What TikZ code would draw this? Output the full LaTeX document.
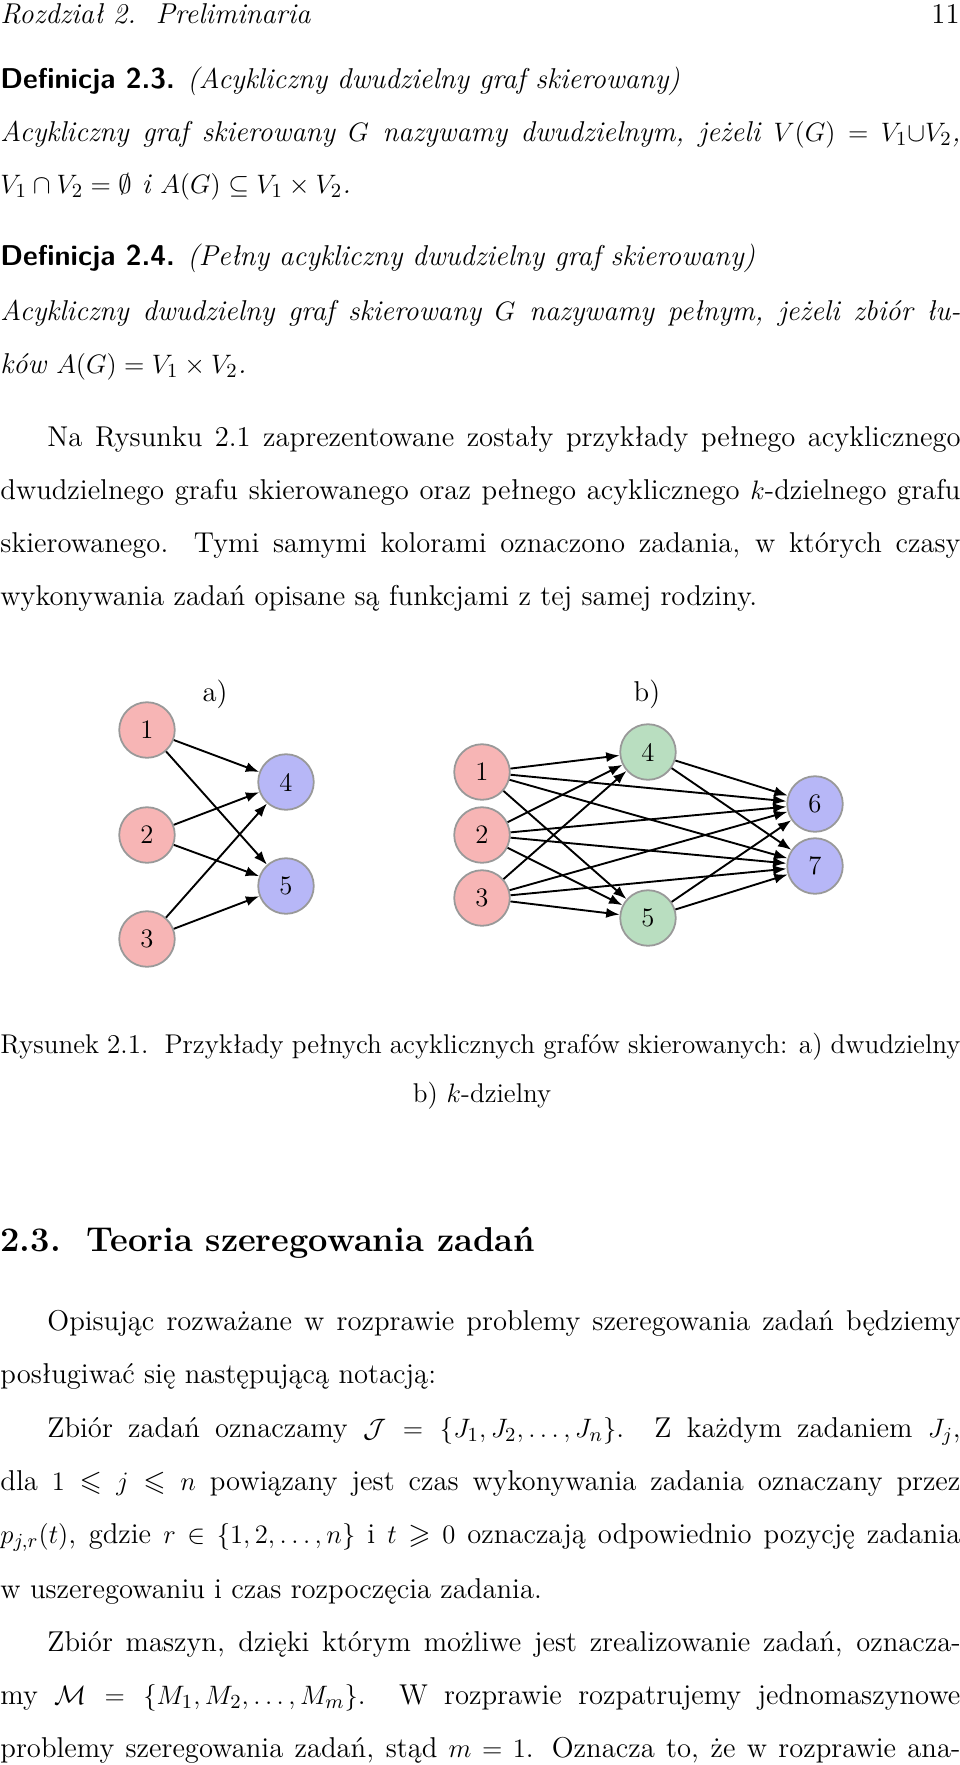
\documentclass[tikz,border=0pt]{standalone}
\usepackage{amssymb}
\usepackage{fontspec}
\usetikzlibrary{arrows.meta}
\newcommand\fullline[1]{\hbox to 432pt{#1}}
\definecolor{vred}{HTML}{F7B5B5}
\definecolor{vblue}{HTML}{B7B7F7}
\definecolor{vgreen}{HTML}{B9DEC0}
\tikzset{
  ln/.style={anchor=base west,inner sep=0pt,font=\fontsize{12.9}{24}\selectfont},
  vert/.style={circle,draw=gray!80,line width=0.8pt,minimum size=25pt,inner sep=0pt,font=\fontsize{12}{14}\selectfont},
  edge/.style={-{Latex[length=6pt,width=4.5pt]},line width=0.85pt},
}
\begin{document}
\begin{tikzpicture}[x=0.45pt,y=-0.45pt]
  \useasboundingbox (0,0) rectangle (960,1765);
  % page text
  \node[ln] (hd) at (0,23) {\itshape Rozdział 2.\ \ Preliminaria};
  \node[ln,anchor=base east] (pg) at (960,23) {11};
  \node[ln] (d1) at (0,88) {\textsf{\bfseries Definicja 2.3.} \textit{(Acykliczny dwudzielny graf skierowany)}};
  \node[ln] (d2) at (0,141) {\fullline{\itshape Acykliczny graf skierowany $G$ nazywamy dwudzielnym, jeżeli $V(G)=V_1{\cup}V_2$,}};
  \node[ln] (d3) at (0,193) {\itshape $V_1\cap V_2=\emptyset$ i $A(G)\subseteq V_1\times V_2$.};
  \node[ln] (e1) at (0,265) {\textsf{\bfseries Definicja 2.4.} \textit{(Pełny acykliczny dwudzielny graf skierowany)}};
  \node[ln] (e2) at (0,320) {\fullline{\itshape Acykliczny dwudzielny graf skierowany $G$ nazywamy pełnym, jeżeli zbiór łu-}};
  \node[ln] (e3) at (0,373) {\itshape ków $A(G)=V_1\times V_2$.};
  \node[ln] (p1) at (47,446) {\hbox to 411pt{Na Rysunku 2.1 zaprezentowane zostały przykłady pełnego acyklicznego}};
  \node[ln] (p2) at (0,499) {\fullline{dwudzielnego grafu skierowanego oraz pełnego acyklicznego $k$-dzielnego grafu}};
  \node[ln] (p3) at (0,552) {\fullline{skierowanego. Tymi samymi kolorami oznaczono zadania, w których czasy}};
  \node[ln] (p4) at (0,605) {wykonywania zadań opisane są funkcjami z tej samej rodziny.};
  % graph a)
  \node[font=\fontsize{12.9}{14}\selectfont] (la) at (215,694) {a)};
  \node[vert,fill=vred] (a1) at (147,730) {1};
  \node[vert,fill=vred] (a2) at (147,835) {2};
  \node[vert,fill=vred] (a3) at (147,939) {3};
  \node[vert,fill=vblue] (a4) at (286,782) {4};
  \node[vert,fill=vblue] (a5) at (286,886) {5};
  \foreach \s in {1,2,3}
    \foreach \t in {4,5}
      \draw[edge] (a\s) -- (a\t);
  % graph b)
  \node[font=\fontsize{12.9}{14}\selectfont] (lb) at (647,694) {b)};
  \node[vert,fill=vred] (b1) at (482,772) {1};
  \node[vert,fill=vred] (b2) at (482,835) {2};
  \node[vert,fill=vred] (b3) at (482,898) {3};
  \node[vert,fill=vgreen] (b4) at (648,752) {4};
  \node[vert,fill=vgreen] (b5) at (648,918) {5};
  \node[vert,fill=vblue] (b6) at (815,804) {6};
  \node[vert,fill=vblue] (b7) at (815,866) {7};
  \foreach \s in {1,2,3}
    \foreach \t in {4,5,6,7}
      \draw[edge] (b\s) -- (b\t);
  \foreach \s in {4,5}
    \foreach \t in {6,7}
      \draw[edge] (b\s) -- (b\t);
  % caption
  \node[ln,font=\fontsize{12.2}{24}\selectfont] (c1) at (0,1053) {\fullline{Rysunek 2.1.\ \ Przykłady pełnych acyklicznych grafów skierowanych: a) dwudzielny}};
  \node[ln,anchor=base,font=\fontsize{12.2}{24}\selectfont] (c2) at (482,1102) {b) $k$-dzielny};
  % section
  \node[ln,font=\fontsize{15.5}{20}\selectfont\bfseries] (sec) at (0,1251) {2.3.\ \ Teoria szeregowania zadań};
  \node[ln] (q1) at (47,1330) {\hbox to 411pt{Opisując rozważane w rozprawie problemy szeregowania zadań będziemy}};
  \node[ln] (q2) at (0,1383) {posługiwać się następującą notacją:};
  \node[ln] (q3) at (47,1437) {\hbox to 411pt{Zbiór zadań oznaczamy $\mathcal{J} = \{J_1,J_2,\ldots,J_n\}$. Z każdym zadaniem $J_j$,}};
  \node[ln] (q4) at (0,1490) {\fullline{dla $1\leqslant j\leqslant n$ powiązany jest czas wykonywania zadania oznaczany przez}};
  \node[ln] (q5) at (0,1543) {\fullline{$p_{j,r}(t)$, gdzie $r\in\{1,2,\ldots,n\}$ i $t\geqslant 0$ oznaczają odpowiednio pozycję zadania}};
  \node[ln] (q6) at (0,1598) {w uszeregowaniu i czas rozpoczęcia zadania.};
  \node[ln] (q7) at (47,1651) {\hbox to 411pt{Zbiór maszyn, dzięki którym możliwe jest zrealizowanie zadań, oznacza-}};
  \node[ln] (q8) at (0,1704) {\fullline{my $\mathcal{M} = \{M_1,M_2,\ldots,M_m\}$. W rozprawie rozpatrujemy jednomaszynowe}};
  \node[ln] (q9) at (0,1757) {\fullline{problemy szeregowania zadań, stąd $m=1$. Oznacza to, że w rozprawie ana-}};
\end{tikzpicture}
\end{document}
